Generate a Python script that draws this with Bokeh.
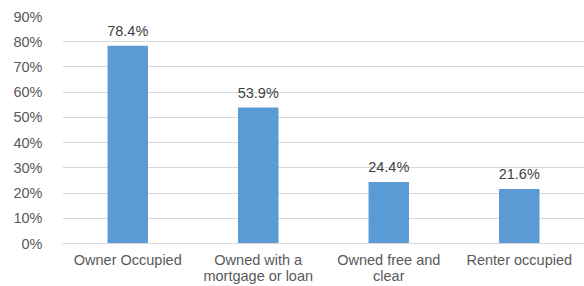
from bokeh.plotting import figure
from bokeh.models import ColumnDataSource, NumeralTickFormatter, FixedTicker
from bokeh.core.properties import value
from bokeh.embed import file_html
from bokeh.resources import INLINE

categories = ["Owner Occupied", "Owned with a\nmortgage or loan", "Owned free and\nclear", "Renter occupied"]
values = [0.784, 0.539, 0.244, 0.216]
labels = ["78.4%", "53.9%", "24.4%", "21.6%"]
y_ticks = [0, 0.1, 0.2, 0.3, 0.4, 0.5, 0.6, 0.7, 0.8, 0.9]

src = ColumnDataSource(dict(cat=categories, val=values, lab=labels))

p = figure(x_range=categories, y_range=(0, 0.9), frame_width=522, frame_height=227,
           output_backend="svg", toolbar_location=None,
           min_border_left=62, min_border_right=0, min_border_top=16, min_border_bottom=0)
p.outline_line_color = None
p.background_fill_color = "white"
p.border_fill_color = "white"

p.vbar(x="cat", top="val", width=0.31, source=src, fill_color="#5b9bd5", line_color=None)
p.text(x="cat", y="val", text="lab", source=src, text_align="center", text_baseline="alphabetic",
       y_offset=-15, text_font=value("Liberation Sans"), text_font_size="14.5px", text_color="#404040")

p.yaxis.ticker = FixedTicker(ticks=y_ticks)
p.yaxis.formatter = NumeralTickFormatter(format="0%")
p.yaxis.axis_line_color = None
p.yaxis.major_tick_line_color = None
p.yaxis.minor_tick_line_color = None
p.yaxis.major_label_standoff = 14
p.yaxis.major_label_text_font = "Liberation Sans"
p.yaxis.major_label_text_font_size = "14.5px"
p.yaxis.major_label_text_color = "#595959"

p.xaxis.axis_line_color = "#d9d9d9"
p.xaxis.major_tick_line_color = None
p.xaxis.minor_tick_line_color = None
p.xaxis.major_label_standoff = 2
p.xaxis.major_label_text_font = "Liberation Sans"
p.xaxis.major_label_text_font_size = "14.5px"
p.xaxis.major_label_text_line_height = 1.05
p.xaxis.major_label_text_color = "#595959"

p.xgrid.grid_line_color = None
p.ygrid.grid_line_color = "#d9d9d9"
p.ygrid.grid_line_width = 1

open("out.html", "w").write(file_html(p, INLINE))
